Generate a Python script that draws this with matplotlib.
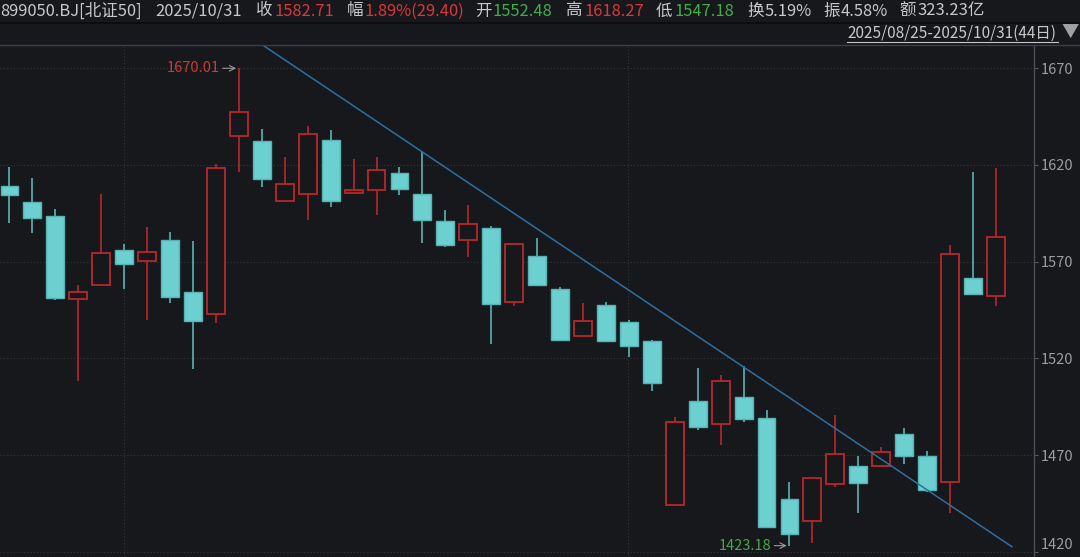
import matplotlib
matplotlib.use("Agg")
from matplotlib import pyplot as plt

plt.rcParams['font.family'] = ['Noto Sans CJK SC', 'DejaVu Sans']

# daily bars, 899050.BJ, 2025/08/25 - 2025/10/31
opens = [1609.0, 1600.7, 1593.6, 1550.5, 1557.8, 1576.0, 1570.2, 1581.1, 1554.5, 1542.8,
         1635.2, 1632.4, 1601.4, 1605.0, 1632.8, 1605.4, 1606.9, 1616.0, 1605.2, 1591.2,
         1581.1, 1587.6, 1549.3, 1572.8, 1555.7, 1531.6, 1547.6, 1538.7, 1529.2, 1444.4,
         1498.1, 1485.9, 1499.9, 1489.0, 1447.5, 1435.9, 1455.2, 1464.5, 1464.5, 1481.1,
         1469.7, 1456.1, 1561.6, 1552.48]
highs = [1618.8, 1613.4, 1597.2, 1558.0, 1604.8, 1579.0, 1587.8, 1585.5, 1580.7, 1620.7,
         1670.01, 1638.6, 1624.1, 1640.0, 1638.0, 1622.9, 1624.1, 1618.8, 1627.2, 1596.7,
         1599.2, 1588.6, 1579.8, 1582.3, 1556.8, 1548.5, 1549.0, 1539.9, 1529.4, 1489.5,
         1515.2, 1511.4, 1515.9, 1493.2, 1456.3, 1458.3, 1490.6, 1469.4, 1474.2, 1484.2,
         1472.3, 1578.6, 1616.5, 1618.27]
lows = [1590.2, 1585.0, 1550.0, 1508.3, 1557.5, 1556.0, 1539.9, 1548.8, 1514.4, 1538.5,
        1616.2, 1608.6, 1601.2, 1591.4, 1598.1, 1605.2, 1594.3, 1604.5, 1579.5, 1577.4,
        1572.3, 1527.3, 1547.1, 1557.5, 1529.2, 1531.4, 1528.6, 1520.7, 1503.1, 1444.2,
        1483.0, 1475.2, 1487.0, 1432.5, 1423.18, 1424.4, 1453.7, 1440.2, 1464.3, 1465.4,
        1450.8, 1439.9, 1553.0, 1547.18]
closes = [1604.5, 1592.4, 1551.1, 1554.3, 1574.7, 1569.0, 1575.0, 1551.6, 1539.2, 1618.4,
          1647.2, 1612.6, 1610.2, 1635.9, 1601.4, 1606.9, 1617.3, 1607.7, 1591.6, 1578.5,
          1589.5, 1548.0, 1579.0, 1557.8, 1529.4, 1539.5, 1528.8, 1526.2, 1507.3, 1487.1,
          1484.4, 1508.5, 1488.8, 1432.7, 1429.2, 1458.3, 1470.8, 1455.6, 1471.8, 1469.6,
          1451.8, 1573.8, 1553.31, 1582.71]

y_ticks = [1420, 1470, 1520, 1570, 1620, 1670]
month_starts = [5, 27]          # 09/01 and 10/09
trend_x = [11.0, 43.7]
trend_y = [1682.3, 1422.6]
hi_idx, lo_idx = 10, 34

BG = '#17181c'
UP = '#b8282c'
DOWN_FILL = '#6ccfd0'
DOWN_EDGE = '#58b3b5'
W, H = 1080, 557

fig = plt.figure(figsize=(W / 100, H / 100), dpi=100, facecolor=BG)
ax = fig.add_axes([0, 0, 1034 / W, (H - 45) / H], facecolor=BG)

n = len(opens)
xs = list(range(n))
for i in xs:
    o, h, l, c = opens[i], highs[i], lows[i], closes[i]
    up = c >= o
    ax.vlines(i, l, h, color=UP if up else DOWN_EDGE, lw=1.2, zorder=2)
    if up:
        ax.bar(i, c - o, bottom=o, width=0.78, facecolor=BG, edgecolor=UP, lw=1.3, zorder=3)
    else:
        ax.bar(i, o - c, bottom=c, width=0.78, facecolor=DOWN_FILL, edgecolor=DOWN_EDGE, lw=1.0, zorder=3)

ax.plot(trend_x, trend_y, color='#2f6f9f', lw=1.1, zorder=4, clip_on=True)

# grid
for v in y_ticks:
    ax.axhline(v, color='#34363b', lw=0.8, ls=(0, (1, 2)), zorder=0)
for m in month_starts:
    ax.axvline(m - 0.02, color='#34363b', lw=0.8, ls=(0, (1, 2)), zorder=0)

ax.set_xlim(-0.414, 44.66)
ax.set_ylim(1417.3, 1682.05)
ax.set_xticks([])
ax.set_yticks(y_ticks)
ax.yaxis.tick_right()
ax.tick_params(axis='y', colors='#55585e', labelcolor='#9d9d9d', length=3, width=0.8, pad=1.5,
               labelsize=10.5)
for lab in ax.get_yticklabels():
    if lab.get_text() == '1420':
        lab.set_va('bottom')
for s in ['top', 'left', 'bottom']:
    ax.spines[s].set_visible(False)
ax.spines['right'].set_color('#4a4d54')
ax.spines['right'].set_linewidth(1.0)

# high / low markers
ax.annotate('', xy=(hi_idx, highs[hi_idx]), xytext=(-19, 0), textcoords='offset pixels',
            arrowprops=dict(arrowstyle='->', color='#9a9a9a', lw=0.8))
ax.annotate(f'{highs[hi_idx]:.2f}', xy=(hi_idx, highs[hi_idx]), xytext=(-19, 0),
            textcoords='offset pixels', ha='right', va='center', color='#cc3a3a', fontsize=10.5)
ax.annotate('', xy=(lo_idx, lows[lo_idx]), xytext=(-18, 0), textcoords='offset pixels',
            arrowprops=dict(arrowstyle='->', color='#9a9a9a', lw=0.8))
ax.annotate(f'{lows[lo_idx]:.2f}', xy=(lo_idx, lows[lo_idx]), xytext=(-18, 0),
            textcoords='offset pixels', ha='right', va='center', color='#45a84c', fontsize=10.5)

# header
def ftext(x, y, s, color='#c8c8c8', size=11.9, **kw):
    fig.text(x / W, 1 - y / H, s, color=color, fontsize=size, va='center', ha='left', **kw)

GRAY, RED, GREEN = '#c8c8c8', '#d9383a', '#3fae49'
header = [(0, '899050.BJ[北证50]', GRAY), (155, '2025/10/31', GRAY),
          (256, '收', GRAY), (275, '1582.71', RED),
          (347, '幅', GRAY), (365, '1.89%(29.40)', RED),
          (475, '开', GRAY), (493, '1552.48', GREEN),
          (566, '高', GRAY), (584, '1618.27', RED),
          (656, '低', GRAY), (674, '1547.18', GREEN),
          (747, '换', GRAY), (765, '5.19%', GRAY),
          (823, '振', GRAY), (841, '4.58%', GRAY),
          (899, '额', GRAY), (917, '323.23亿', GRAY)]
for x, s, c in header:
    ftext(x, 11, s, c)

ftext(847, 33, '2025/08/25-2025/10/31(44日)', '#c8c8c8', size=11.1)
fig.add_artist(plt.Line2D([847 / W, 1058 / W], [1 - 42 / H, 1 - 42 / H], color='#c8c8c8', lw=0.8))
ftext(1061, 33, '▼', '#a0a0a0', size=12.5)

fig.add_artist(plt.Line2D([0, 1], [1 - 22.5 / H, 1 - 22.5 / H], color='#0b0b0d', lw=1.2))
fig.add_artist(plt.Line2D([0, 1], [1 - 45 / H, 1 - 45 / H], color='#3b3e45', lw=1.0))

fig.savefig('out.png', dpi=100, facecolor=BG)
